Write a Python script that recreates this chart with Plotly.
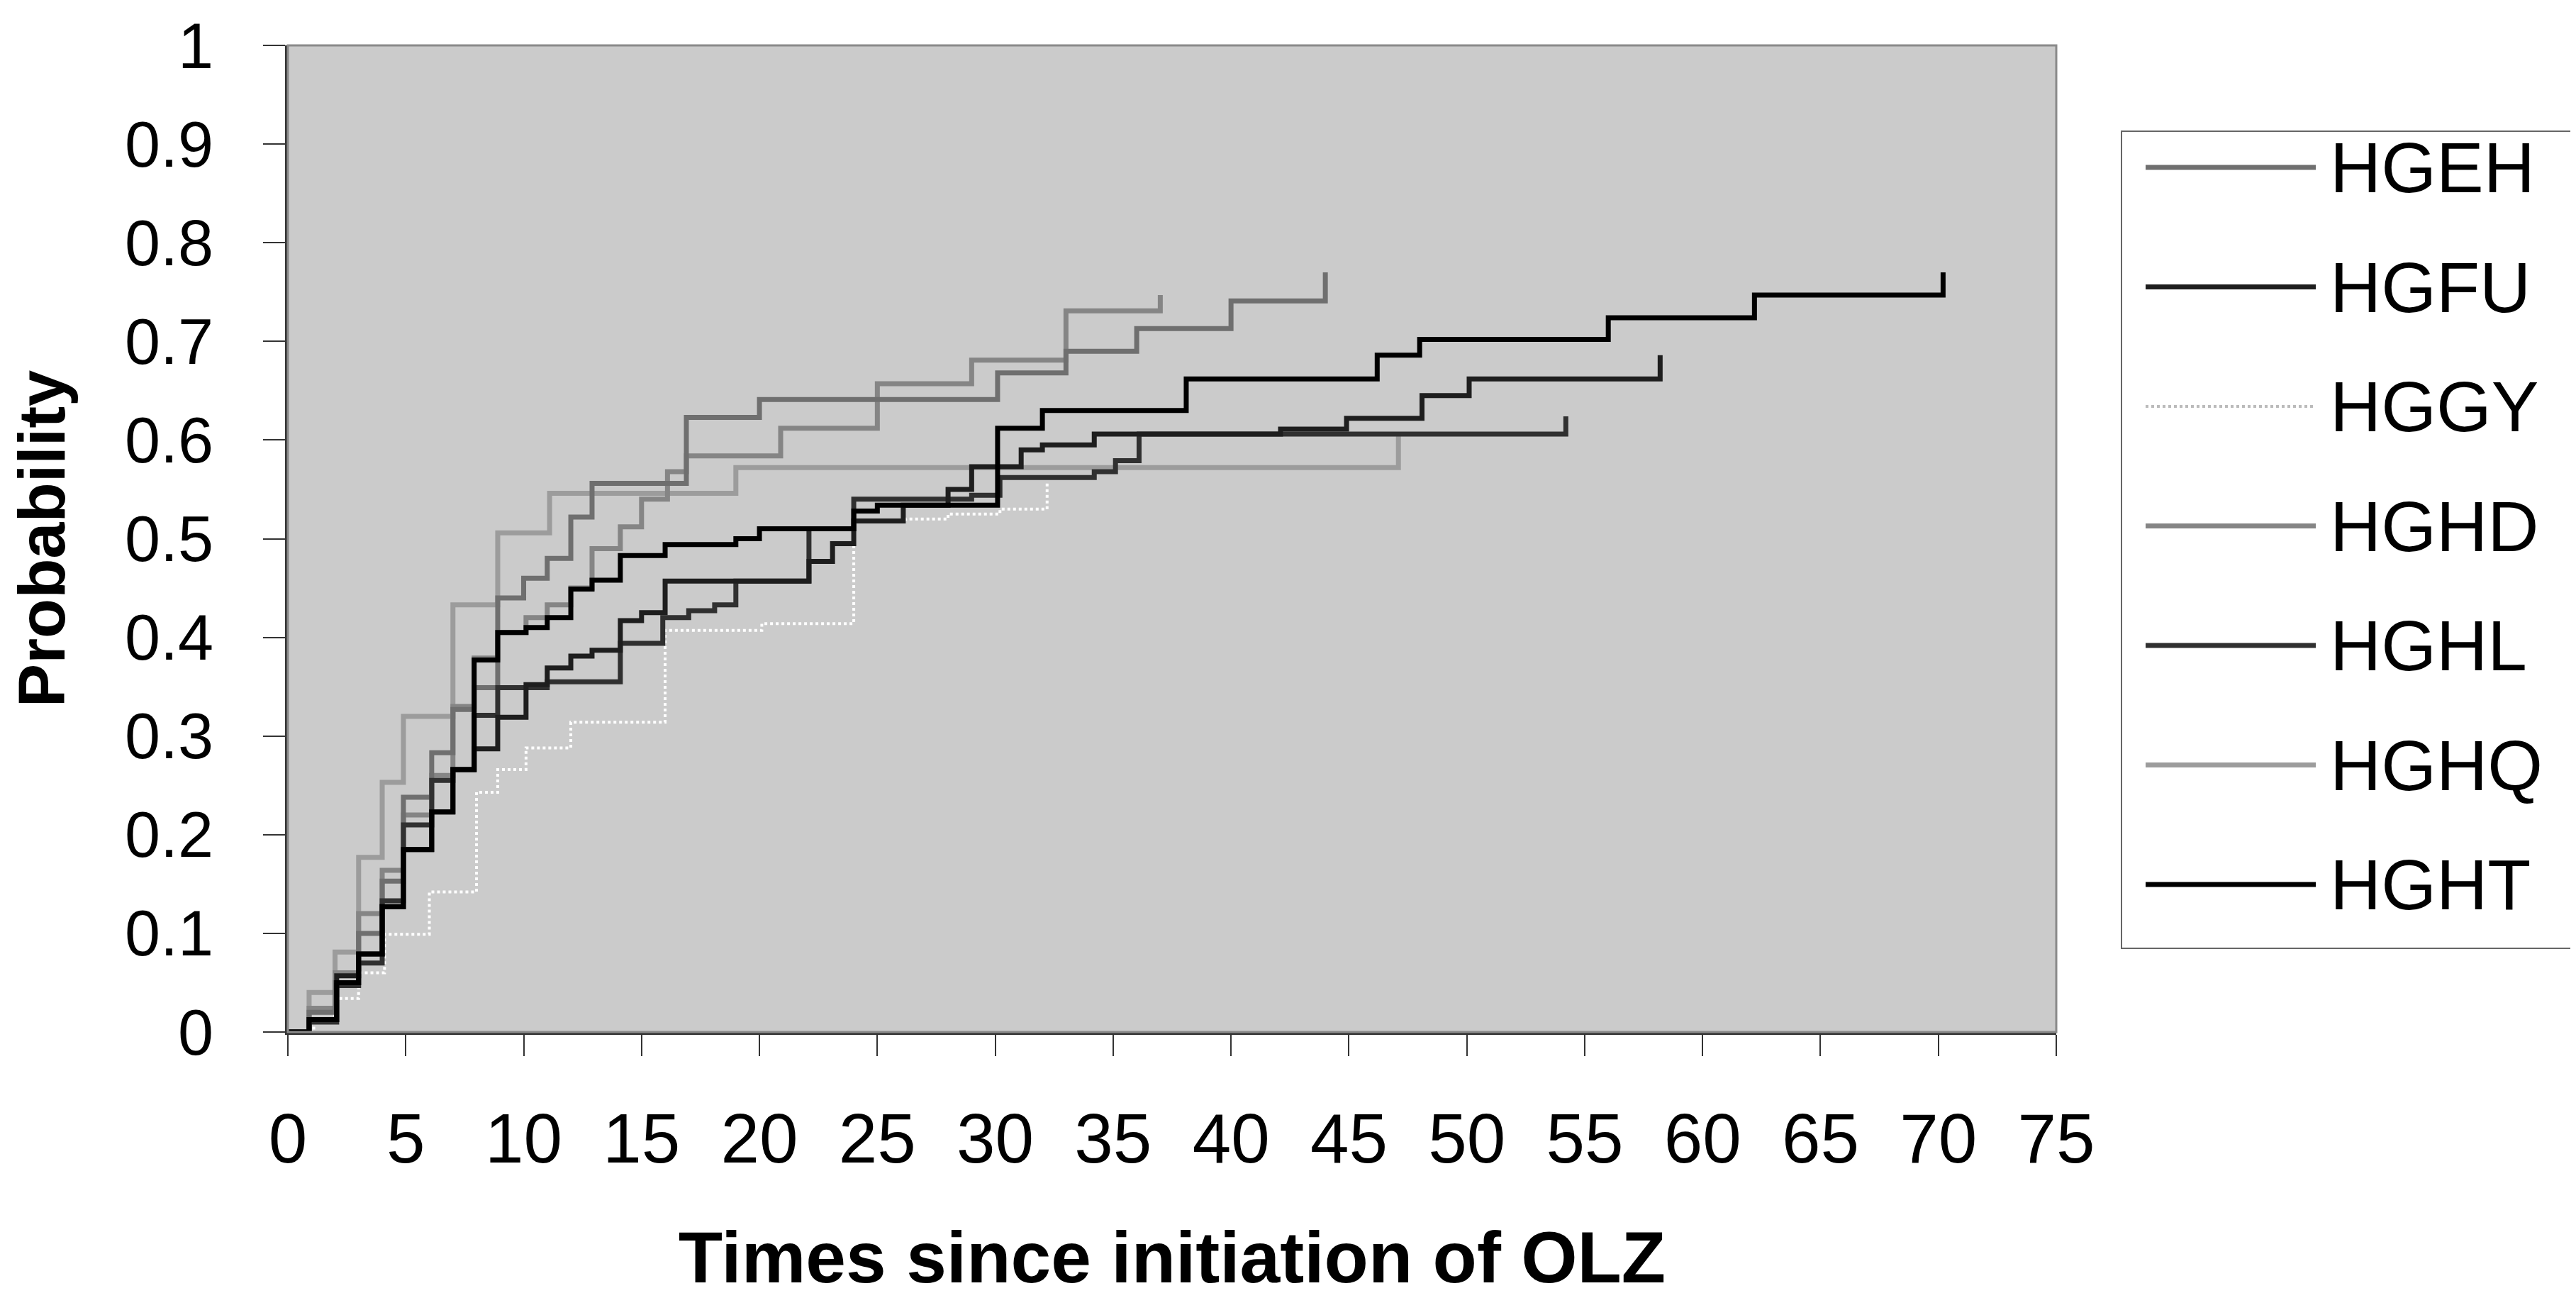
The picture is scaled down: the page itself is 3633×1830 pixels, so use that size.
import plotly.graph_objects as go

# Cumulative probability step curves (time, probability)
series_names = ["HGEH", "HGFU", "HGGY", "HGHD", "HGHL", "HGHQ", "HGHT"]

hgeh_t = [0, 0.9, 2.0, 3.0, 4.0, 4.9, 6.1, 7.0, 7.9, 8.9, 10.0, 11.0, 12.0, 12.9, 16.9, 20.0, 30.1, 33.0, 36.0, 40.0, 44.0]
hgeh_p = [0, 0.02, 0.05, 0.10, 0.153, 0.238, 0.283, 0.327, 0.349, 0.44, 0.46, 0.48, 0.522, 0.556, 0.623, 0.641, 0.668, 0.690, 0.713, 0.741, 0.77]

hgfu_t = [0, 0.9, 2.07, 3.0, 4.0, 4.9, 6.1, 7.0, 7.9, 8.9, 10.1, 11.0, 12.0, 12.9, 14.1, 15.0, 16.0, 22.1, 23.1, 24.0, 26.1,
          28.0, 29.0, 31.1, 32.0, 34.2, 42.1, 44.9, 48.1, 50.1, 58.2]
hgfu_p = [0, 0.0125, 0.057, 0.079, 0.127, 0.185, 0.223, 0.266, 0.287, 0.319, 0.352, 0.369, 0.381, 0.387, 0.417, 0.425, 0.457,
          0.477, 0.495, 0.518, 0.534, 0.55, 0.573, 0.59, 0.595, 0.606, 0.611, 0.622, 0.645, 0.662, 0.686]

hggy_t = [0, 1.1, 2.0, 3.0, 4.1, 6.0, 8.0, 8.9, 10.1, 12.0, 16.0, 20.1, 24.0, 26.2, 28.0, 30.2, 32.2]
hggy_p = [0, 0.01, 0.034, 0.06, 0.099, 0.142, 0.243, 0.266, 0.288, 0.314, 0.407, 0.414, 0.517, 0.52, 0.525, 0.53, 0.557]

hghd_t = [0, 0.9, 2.0, 3.0, 4.0, 4.9, 6.1, 7.0, 7.9, 8.9, 10.1, 11.0, 12.0, 12.9, 14.1, 15.0, 16.1, 16.9, 20.9, 25.0, 29.0, 33.0, 37.0]
hghd_p = [0, 0.024, 0.06, 0.12, 0.164, 0.22, 0.26, 0.33, 0.379, 0.405, 0.42, 0.433, 0.45, 0.49, 0.512, 0.54, 0.568, 0.584,
          0.612, 0.657, 0.681, 0.731, 0.747]

hghl_t = [0, 0.9, 2.07, 3.0, 4.0, 4.9, 6.1, 7.0, 7.9, 8.9, 11.0, 14.1, 15.9, 17.0, 18.1, 19.0, 22.1, 24.0, 29.0, 30.2, 34.2,
          35.1, 36.1, 54.2]
hghl_p = [0, 0.01, 0.047, 0.07, 0.133, 0.21, 0.255, 0.266, 0.321, 0.349, 0.355, 0.394, 0.42, 0.427, 0.433, 0.457, 0.51, 0.54,
          0.544, 0.562, 0.568, 0.579, 0.606, 0.624]

hghq_t = [0, 0.9, 2.0, 3.0, 4.0, 4.9, 7.0, 8.9, 11.1, 19.0, 47.1]
hghq_p = [0, 0.04, 0.081, 0.177, 0.253, 0.320, 0.433, 0.506, 0.546, 0.572, 0.607]

hght_t = [0, 0.9, 2.07, 3.0, 4.0, 4.9, 6.1, 7.0, 7.9, 8.9, 10.1, 11.0, 12.0, 12.9, 14.1, 16.0, 19.0, 20.0, 24.0, 25.0, 30.1,
          32.0, 38.1, 46.2, 48.0, 56.0, 62.2, 70.2]
hght_p = [0, 0.0125, 0.05, 0.079, 0.127, 0.185, 0.223, 0.266, 0.377, 0.405, 0.41, 0.42, 0.449, 0.458, 0.483, 0.494, 0.50,
          0.51, 0.528, 0.534, 0.612, 0.63, 0.662, 0.686, 0.702, 0.724, 0.747, 0.77]

x_ticks = list(range(0, 80, 5))
y_ticks = [0, 0.1, 0.2, 0.3, 0.4, 0.5, 0.6, 0.7, 0.8, 0.9, 1]
y_tick_text = ["0", "0.1", "0.2", "0.3", "0.4", "0.5", "0.6", "0.7", "0.8", "0.9", "1"]

data = {
    "HGEH": (hgeh_t, hgeh_p),
    "HGFU": (hgfu_t, hgfu_p),
    "HGGY": (hggy_t, hggy_p),
    "HGHD": (hghd_t, hghd_p),
    "HGHL": (hghl_t, hghl_p),
    "HGHQ": (hghq_t, hghq_p),
    "HGHT": (hght_t, hght_p),
}
styles = {
    "HGEH": dict(color="#6f6f6f", width=7, dash="solid"),
    "HGFU": dict(color="#1e1e1e", width=7, dash="solid"),
    "HGGY": dict(color="#ffffff", width=4, dash="dot"),
    "HGHD": dict(color="#858585", width=7, dash="solid"),
    "HGHL": dict(color="#303030", width=7, dash="solid"),
    "HGHQ": dict(color="#9c9c9c", width=7, dash="solid"),
    "HGHT": dict(color="#000000", width=7, dash="solid"),
}
draw_order = ["HGGY", "HGHQ", "HGHD", "HGEH", "HGHL", "HGFU", "HGHT"]

# the page puts the figure 8px in from the top-left corner, so the figure is 8px smaller
OFF = 8
W, H = 3633 - OFF, 1830 - OFF
L, R, T, B = 406 - OFF, 733, 64 - OFF, 375
FONT = "Liberation Sans, Arial, sans-serif"

fig = go.Figure()
for name in draw_order:
    t, p = data[name]
    fig.add_trace(go.Scatter(x=t, y=p, mode="lines", name=name, line_shape="hv",
                             line=styles[name], showlegend=False))


def px(xp, yp):
    # pixel position on the screen -> paper coordinates
    x0 = OFF + L
    return (xp - x0) / (W - L - R), (OFF + H - B - yp) / (H - T - B)


shapes = []
annotations = []
# frame of the plot area
shapes.append(dict(type="rect", xref="paper", yref="paper", x0=0, y0=0, x1=1, y1=1,
                   line=dict(color="#8a8a8a", width=3), layer="above"))
# hand-drawn legend (long sample lines like the original)
bx0, by0 = px(2992, 185)
bx1, by1 = px(3630, 1337)
shapes.append(dict(type="rect", xref="paper", yref="paper", x0=bx0, y0=by0, x1=bx1, y1=by1,
                   line=dict(color="#666666", width=2), fillcolor="white"))
for i, name in enumerate(series_names):
    yrow = 236 + 168.5 * i
    lx0, ly = px(3026, yrow)
    lx1, _ = px(3266, yrow)
    st = styles[name]
    shapes.append(dict(type="line", xref="paper", yref="paper", x0=lx0, x1=lx1, y0=ly, y1=ly,
                       line=dict(color=st["color"] if name != "HGGY" else "#bbbbbb",
                                 width=st["width"], dash=st["dash"])))
    tx, _ = px(3284, yrow)
    annotations.append(dict(xref="paper", yref="paper", x=tx, y=ly, text=name, showarrow=False,
                            xanchor="left", yanchor="middle",
                            font=dict(family=FONT, size=100, color="black")))

fig.update_layout(
    width=W, height=H,
    margin=dict(l=L, r=R, t=T, b=B),
    paper_bgcolor="white",
    plot_bgcolor="#cbcbcb",
    font=dict(family=FONT, color="black"),
    shapes=shapes,
    annotations=annotations,
    xaxis=dict(
        range=[0, 75], tickvals=x_ticks, ticks="outside", ticklen=30, tickwidth=2, tickcolor="#333333",
        showgrid=False, zeroline=False, showline=True, linecolor="#333333", linewidth=4, automargin=False,
        tickfont=dict(family=FONT, size=98), ticklabelstandoff=32, ticklabeloverflow="allow",
        title=dict(text="<b>Times since initiation of OLZ</b>", font=dict(family=FONT, size=102), standoff=92),
    ),
    yaxis=dict(
        range=[0, 1], tickvals=y_ticks, ticktext=y_tick_text, ticks="outside", ticklen=31, tickwidth=2,
        tickcolor="#333333", showgrid=False, zeroline=False, showline=True, linecolor="#333333", linewidth=4,
        automargin=False, tickfont=dict(family=FONT, size=90), ticklabelstandoff=52, ticklabeloverflow="allow",
        title=dict(text="<b>Probability</b>", font=dict(family=FONT, size=92), standoff=72),
    ),
)

fig.write_html("out.html")
